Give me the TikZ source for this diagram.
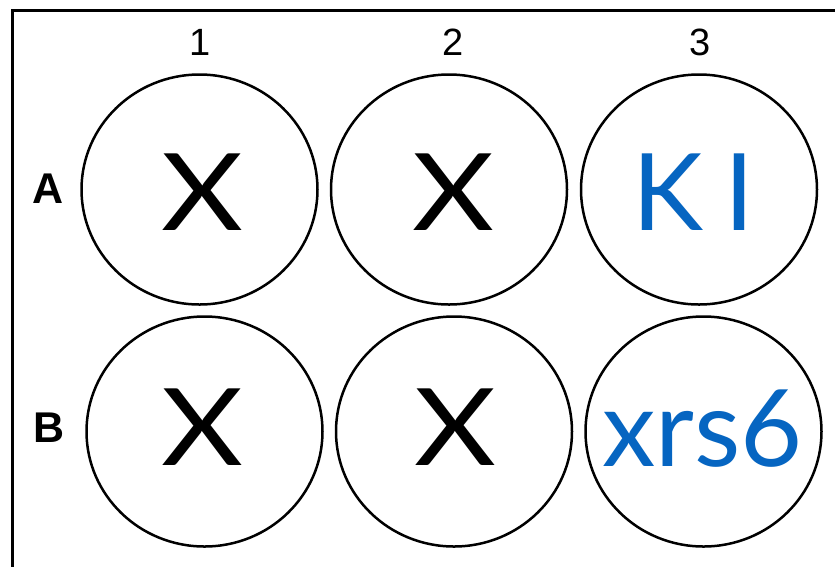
\documentclass[tikz,border=0pt]{standalone}
\usepackage{fontspec}
\setmainfont{Liberation Sans}
\newfontfamily\wellfont{Lato}
\usetikzlibrary{shapes.geometric}
\definecolor{wellblue}{RGB}{6,101,193}
\tikzset{
  well/.style={draw, ellipse, line width=2.5pt, inner sep=0pt,
    minimum width=236pt, minimum height=230pt},
  collabel/.style={inner sep=0pt, anchor=base, font=\fontsize{38}{38}\selectfont},
  rowlabel/.style={inner sep=0pt, anchor=base, font=\bfseries\fontsize{43}{43}\selectfont},
  xmark/.style={inner sep=0pt, anchor=base, font=\wellfont\fontsize{107}{107}\selectfont},
  strain/.style={inner sep=0pt, anchor=base, text=wellblue, font=\wellfont\fontsize{107}{107}\selectfont}
}
% a wide X, as in the well marks
\newcommand{\wideX}{\scalebox{1.18}[1]{X}}
\begin{document}
\begin{tikzpicture}[x=1pt, y=-1pt]
  \useasboundingbox (0,0) rectangle (835,566);
  % plate frame, open to the right and bottom
  \coordinate (frameBL) at (12.5,580);
  \coordinate (frameTL) at (12.5,10.5);
  \coordinate (frameTR) at (850,10.5);
  \draw[line width=3pt] (frameBL) -- (frameTL) -- (frameTR);

  % wells
  \node[well] (wA1) at (199.5,189.5) {};
  \node[well] (wA2) at (449,189.5) {};
  \node[well] (wA3) at (699,189.5) {};
  \node[well] (wB1) at (204.5,431.5) {};
  \node[well] (wB2) at (454,431.5) {};
  \node[well] (wB3) at (703.5,431.5) {};

  % column and row headers
  \node[collabel] (c1) at (200,55) {1};
  \node[collabel] (c2) at (453,55) {2};
  \node[collabel] (c3) at (700,55) {3};
  \node[rowlabel] (rA) at (48,203) {A};
  \node[rowlabel] (rB) at (49,442) {B};

  % well contents
  \node[xmark] (tA1) at (202.5,230) {\wideX};
  \node[xmark] (tA2) at (453,230) {\wideX};
  \node[strain] (tA3) at (693.5,230) {K\kern22pt I};
  \node[xmark] (tB1) at (202.5,465) {\wideX};
  \node[xmark] (tB2) at (455,465) {\wideX};
  \node[strain] (tB3) at (702.5,466) {xrs6};
\end{tikzpicture}
\end{document}
